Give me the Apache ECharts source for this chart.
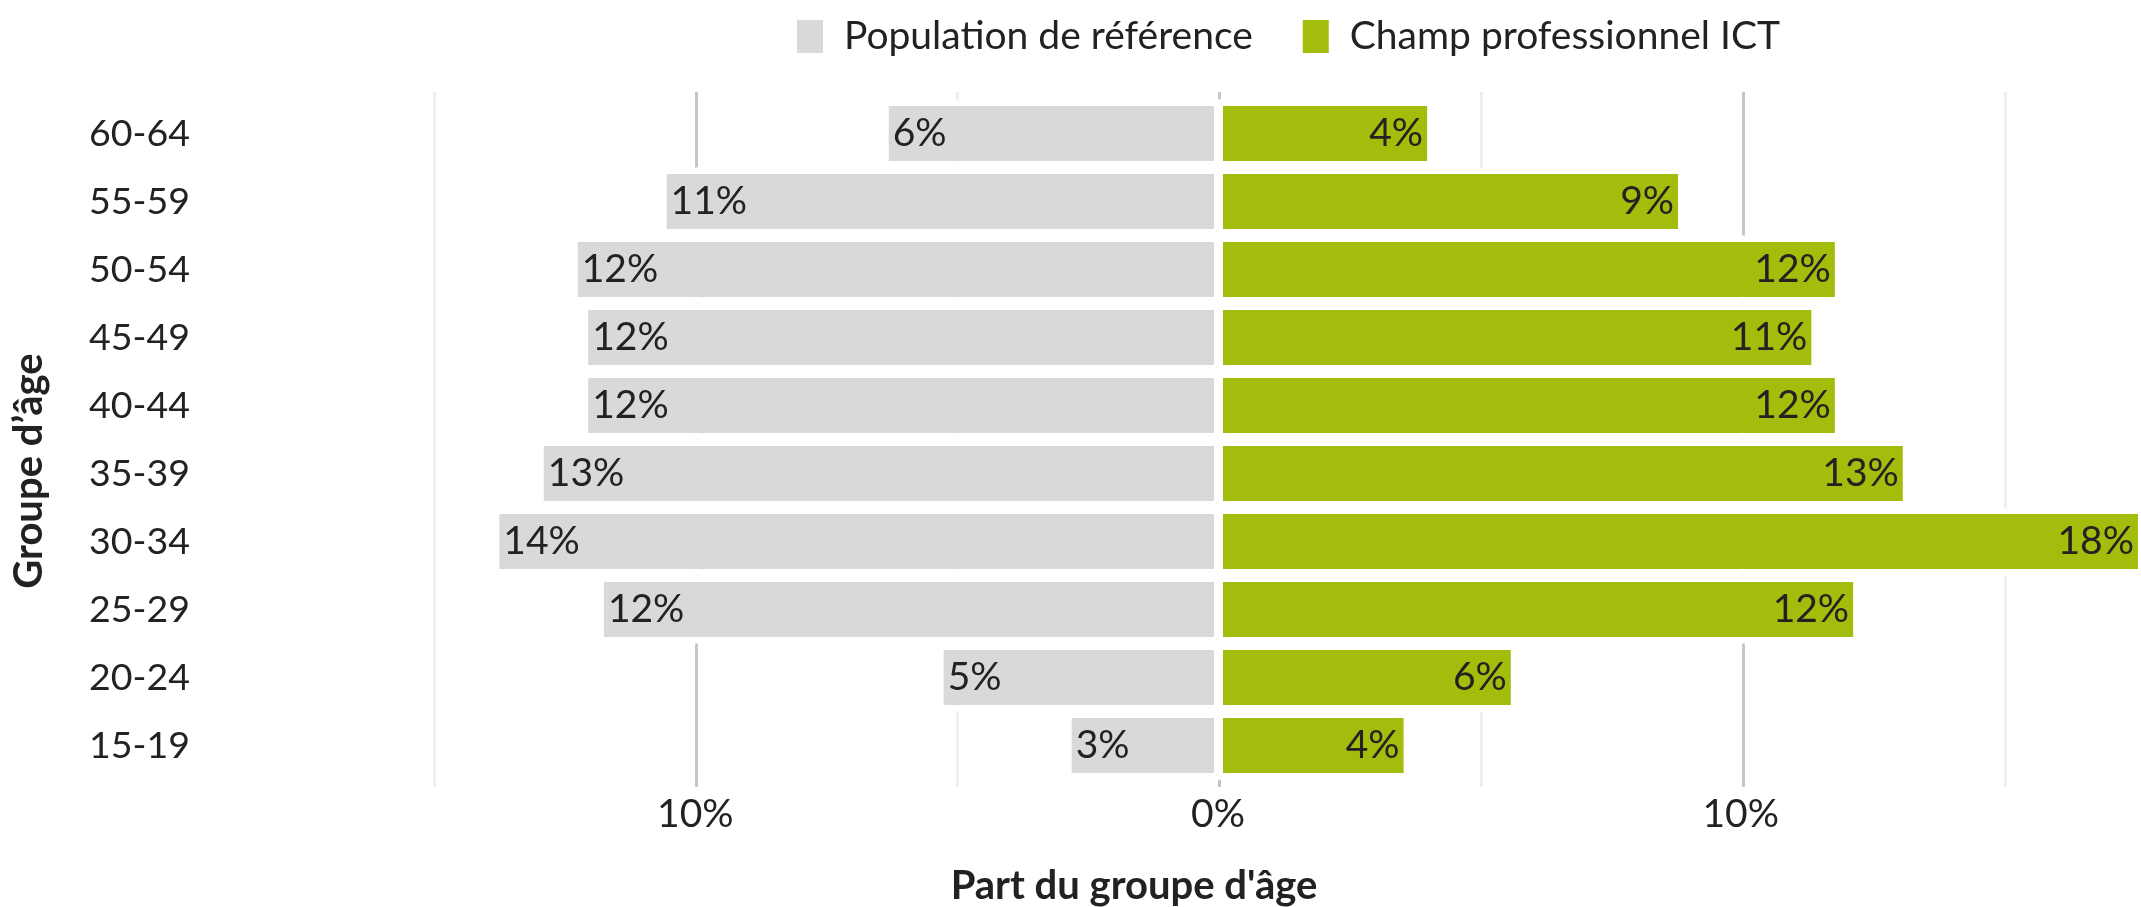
<!DOCTYPE html>
<html lang="fr">
<head>
<meta charset="UTF-8">
<title>Groupe d'âge</title>
<script src="https://cdn.jsdelivr.net/npm/echarts@6/dist/echarts.min.js"></script>
<style>
    html, body { margin: 0; padding: 0; background: #fff; }
    #chart { width: 2141px; height: 907px; }
</style>
</head>
<body>
<div id="chart"></div>
<script>
    // valeurs (en %), de haut en bas
    const ages = ['60-64', '55-59', '50-54', '45-49', '40-44', '35-39', '30-34', '25-29', '20-24', '15-19'];
    const population = [6.3, 10.55, 12.25, 12.05, 12.05, 12.9, 13.75, 11.75, 5.25, 2.8];
    const ict = [4.0, 8.8, 11.8, 11.35, 11.8, 13.1, 17.6, 12.15, 5.6, 3.55];
    const shownTicks = [-10, 0, 10];

    const font = 'Lato, "Open Sans", sans-serif';
    const textColor = '#222';
    const pct = v => Math.round(Math.abs(v)) + '%';

    const chart = echarts.init(document.getElementById('chart'));

    chart.setOption({
        animation: false,
        textStyle: { fontFamily: font, color: textColor },
        legend: {
            data: ['Population de référence', 'Champ professionnel ICT'],
            left: 792,
            top: 12,
            icon: 'rect',
            itemWidth: 26,
            itemHeight: 33,
            itemGap: 50,
            selectedMode: false,
            textStyle: { fontSize: 39, fontFamily: font, color: textColor, padding: [0, 0, 0, 16] }
        },
        grid: [
            { left: 434, right: 0, top: 99.5, bottom: 127.5 },
            { left: 434, right: 0, top: 92, bottom: 120 }
        ],
        xAxis: [
            {
                type: 'value', gridIndex: 0, min: -15, max: 17.6, interval: 5,
                axisLine: { show: false }, axisTick: { show: false }, splitLine: { show: false },
                axisLabel: {
                    fontSize: 39, color: textColor, margin: 15,
                    formatter: v => shownTicks.includes(v) ? Math.abs(v) + '%' : ''
                }
            },
            {
                // quadrillage seul, un peu plus haut que les barres
                type: 'value', gridIndex: 1, min: -15, max: 17.6, interval: 5,
                axisLine: { show: false }, axisTick: { show: false }, axisLabel: { show: false },
                splitLine: {
                    show: true, showMaxLine: false,
                    lineStyle: { color: ['#eeeeee', '#c6c6c6'], width: 3 }
                }
            }
        ],
        yAxis: [
            {
                type: 'category', gridIndex: 0, data: ages, inverse: true,
                axisLine: { show: false, onZero: false }, axisTick: { show: false },
                axisLabel: { fontSize: 37.5, color: textColor, margin: 244 }
            },
            { type: 'category', gridIndex: 0, data: ages, inverse: true, show: false },
            { type: 'category', gridIndex: 1, data: ages, inverse: true, show: false }
        ],
        graphic: [
            {
                type: 'text', x: 29, y: 471, rotation: Math.PI / 2,
                style: { text: 'Groupe d’âge', font: 'bold 40px ' + font, fill: textColor, align: 'center', verticalAlign: 'middle' }
            },
            {
                type: 'text', x: 1134, y: 886,
                style: { text: "Part du groupe d'âge", font: 'bold 40px ' + font, fill: textColor, align: 'center', verticalAlign: 'middle' }
            }
        ],
        series: [
            // fonds blancs qui masquent le quadrillage dans chaque rangée
            {
                name: 'masque-g', type: 'bar', yAxisIndex: 1, stack: 'masque', barCategoryGap: '0%',
                data: population.map(v => -v), itemStyle: { color: '#fff' }, silent: true, z: 1
            },
            {
                name: 'masque-d', type: 'bar', yAxisIndex: 1, stack: 'masque', barCategoryGap: '0%',
                data: ict, itemStyle: { color: '#fff' }, silent: true, z: 1
            },
            {
                name: 'Population de référence', type: 'bar', stack: 'main', barWidth: '81%',
                data: population.map(v => -v),
                itemStyle: { color: '#d9d9d9' },
                label: {
                    show: true, position: 'insideLeft', distance: 4,
                    fontSize: 39, fontFamily: font, color: textColor,
                    formatter: p => pct(p.value)
                }
            },
            {
                name: 'Champ professionnel ICT', type: 'bar', stack: 'main', barWidth: '81%',
                data: ict,
                itemStyle: { color: '#a4bc0b' },
                label: {
                    show: true, position: 'insideRight', distance: 4,
                    fontSize: 39, fontFamily: font, color: textColor,
                    formatter: p => pct(p.value)
                },
                markLine: {
                    silent: true, symbol: 'none', label: { show: false },
                    lineStyle: { color: '#fff', width: 9, type: 'solid' },
                    emphasis: { disabled: true },
                    data: [{ xAxis: 0 }]
                }
            }
        ]
    });
</script>
</body>
</html>
